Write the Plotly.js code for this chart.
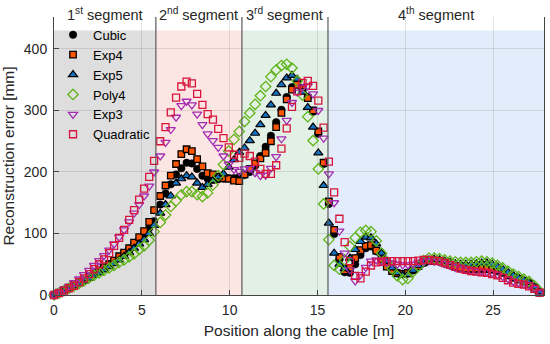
<!DOCTYPE html>
<html>
<head>
<meta charset="utf-8">
<script src="https://cdn.plot.ly/plotly-3.0.1.min.js"></script>
<style>html,body{margin:0;padding:0;background:#fff;}#chart{width:550px;height:344px;}</style>
</head>
<body>
<div id="chart"></div>
<script>
// Position along the cable [m]
const positions = [
  0, 0.29, 0.57, 0.86, 1.14, 1.43, 1.71, 2.0, 2.28, 2.57, 2.85, 3.14, 3.42, 3.71, 3.99, 4.28, 4.56, 4.85, 5.13, 5.42, 5.7,
  6.05, 6.35, 6.65, 6.95, 7.25, 7.55, 7.85, 8.15, 8.45, 8.75, 9.05, 9.35, 9.65, 9.95, 10.25, 10.55,
  10.85, 11.15, 11.45, 11.75, 12.05, 12.35, 12.65, 12.95, 13.25, 13.55, 13.85, 14.15, 14.45, 14.75, 15.05, 15.35, 15.65,
  15.95, 16.25, 16.55, 16.85, 17.15, 17.45, 17.75, 18.05, 18.35, 18.65, 18.95, 19.25, 19.55, 19.85, 20.15, 20.45, 20.75,
  21.05, 21.35, 21.65, 21.95, 22.25, 22.55, 22.85, 23.15, 23.45, 23.75, 24.05, 24.35, 24.65, 24.95, 25.25, 25.55, 25.85,
  26.15, 26.45, 26.75, 27.05, 27.35, 27.65
];
// Reconstruction error [mm]
const cubic = [
  0, 4, 8, 12, 16, 20, 24, 29, 34, 39, 44, 50, 55, 61, 68, 75, 82, 90, 98, 109, 120,
  147, 165, 180, 196, 206, 215, 214, 205, 194, 189, 187, 188, 189, 190, 190, 192,
  195, 200, 210, 226, 241, 259, 281, 301, 322, 338, 342, 335, 322, 298, 262, 213, 148,
  99, 58, 37, 36, 50, 65, 76, 79, 71, 58, 47, 40, 36, 34, 35, 40, 46,
  52, 55, 55, 54, 51, 48, 45, 43, 42, 42, 42, 42, 42, 41, 39, 36, 32, 28, 25, 22, 18, 12, 4
];
const exp4 = [
  0, 4, 8, 12, 16, 20, 25, 30, 35, 40, 45, 50, 56, 63, 69, 76, 85, 94, 104, 119, 138,
  161, 178, 194, 213, 229, 237, 234, 221, 209, 198, 196, 192, 190, 189, 186, 185,
  196, 205, 214, 222, 231, 250, 273, 296, 318, 334, 342, 336, 320, 300, 266, 215, 152,
  106, 62, 40, 44, 60, 73, 80, 81, 72, 58, 46, 39, 35, 34, 36, 41, 47,
  53, 56, 56, 55, 52, 49, 46, 44, 43, 43, 43, 44, 44, 42, 40, 37, 33, 29, 26, 23, 19, 12, 4
];
const exp5 = [
  0, 3, 7, 11, 15, 19, 23, 27, 32, 36, 41, 46, 51, 57, 63, 69, 76, 83, 90, 100, 113,
  133, 147, 161, 182, 189, 194, 192, 182, 175, 180, 186, 192, 197, 208, 220, 232,
  239, 251, 263, 277, 292, 309, 328, 342, 353, 357, 351, 330, 305, 273, 231, 178, 117,
  68, 50, 43, 60, 74, 87, 94, 93, 83, 68, 55, 44, 36, 32, 33, 40, 48,
  54, 57, 58, 57, 55, 53, 51, 50, 50, 50, 51, 52, 52, 50, 46, 42, 37, 32, 28, 24, 20, 13, 5
];
const poly4 = [
  0, 3, 7, 11, 15, 19, 23, 28, 32, 36, 40, 44, 48, 53, 57, 62, 67, 74, 80, 89, 103,
  118, 130, 144, 153, 163, 168, 168, 163, 160, 166, 179, 194, 212, 234, 253, 266,
  282, 296, 310, 324, 339, 355, 366, 373, 375, 369, 348, 325, 290, 251, 205, 148, 90,
  48, 42, 57, 79, 93, 102, 105, 103, 88, 68, 54, 43, 31, 25, 27, 38, 47,
  56, 60, 60, 59, 57, 55, 54, 53, 53, 53, 54, 55, 54, 52, 48, 44, 39, 34, 30, 26, 22, 15, 6
];
const exp3 = [
  0, 4, 9, 14, 20, 26, 33, 40, 48, 56, 64, 73, 83, 94, 106, 119, 133, 147, 161, 177, 200,
  226, 248, 269, 289, 308, 315, 309, 294, 277, 262, 251, 240, 226, 213, 204, 201,
  205, 206, 199, 194, 195, 206, 225, 254, 284, 313, 330, 338, 340, 327, 300, 255, 197,
  150, 104, 68, 41, 23, 33, 45, 55, 57, 55, 53, 52, 50, 49, 49, 50, 53,
  55, 56, 55, 54, 51, 48, 45, 43, 41, 40, 39, 39, 38, 36, 33, 30, 26, 22, 20, 18, 16, 11, 4
];
const quadratic = [
  0, 3, 7, 11, 15, 21, 27, 34, 42, 50, 58, 68, 80, 93, 106, 122, 138, 155, 173, 192, 218,
  250, 273, 297, 321, 339, 347, 344, 327, 309, 294, 285, 270, 255, 240, 228, 223,
  230, 226, 217, 205, 197, 197, 211, 238, 271, 306, 331, 345, 348, 340, 316, 272, 217,
  167, 124, 86, 55, 31, 27, 38, 48, 53, 54, 55, 55, 55, 55, 55, 55, 56,
  57, 57, 56, 55, 52, 49, 46, 43, 41, 39, 38, 37, 36, 34, 32, 28, 24, 20, 18, 17, 14, 10, 4
];
const seriesNames = ['Cubic', 'Exp4', 'Exp5', 'Poly4', 'Exp3', 'Quadratic'];
const segmentEdges = [0, 5.8, 10.7, 15.6, 27.9];
const segmentLabels = ['1<sup>st</sup> segment', '2<sup>nd</sup> segment', '3<sup>rd</sup> segment', '4<sup>th</sup> segment'];
const segmentColors = ['rgb(222,222,222)', 'rgb(252,230,227)', 'rgb(227,240,229)', 'rgb(226,236,250)'];
const xTicks = [0, 5, 10, 15, 20, 25];
const yTicks = [0, 100, 200, 300, 400];

const ys = [cubic, exp4, exp5, poly4, exp3, quadratic];
const markers = [
  {symbol: 'circle', size: 7.5, color: '#000', line: {color: '#000', width: 0.5}},
  {symbol: 'square', size: 6.5, color: 'rgb(255,85,0)', line: {color: '#000', width: 1.3}},
  {symbol: 'triangle-up', size: 8, color: 'rgb(20,115,195)', line: {color: '#000', width: 1.2}},
  {symbol: 'diamond-open', size: 8, color: 'rgb(95,180,25)', line: {color: 'rgb(95,180,25)', width: 1.3}},
  {symbol: 'triangle-down-open', size: 8, color: 'rgb(165,45,180)', line: {color: 'rgb(165,45,180)', width: 1.3}},
  {symbol: 'square-open', size: 7, color: 'rgb(215,20,60)', line: {color: 'rgb(215,20,60)', width: 1.3}}
];
const traces = seriesNames.map((n, i) => ({
  type: 'scatter', mode: 'markers', name: n, x: positions, y: ys[i],
  marker: markers[i], cliponaxis: false
}));

const shapes = [];
for (let s = 0; s < 4; s++) {
  shapes.push({type: 'rect', layer: 'below', xref: 'x', yref: 'y',
    x0: segmentEdges[s], x1: segmentEdges[s + 1], y0: 0, y1: 430,
    fillcolor: segmentColors[s], line: {width: 0}});
}
for (let s = 1; s < 4; s++) {
  shapes.push({type: 'line', layer: 'above', xref: 'x', yref: 'paper',
    x0: segmentEdges[s], x1: segmentEdges[s], y0: 0, y1: 1,
    line: {color: 'rgb(90,90,90)', width: 1.2}});
}
const fam = 'Liberation Sans, Arial, sans-serif';
const annotations = segmentLabels.map((t, s) => ({
  text: t, xref: 'x', yref: 'paper', x: (segmentEdges[s] + segmentEdges[s + 1]) / 2,
  y: 1.012, yanchor: 'middle', showarrow: false,
  font: {family: fam, size: 14.5, color: '#262626'}
}));

const layout = {
  width: 550, height: 344,
  margin: {l: 54, r: 6, t: 17, b: 49},
  paper_bgcolor: '#fff', plot_bgcolor: '#fff',
  font: {family: fam, size: 14, color: '#262626'},
  showlegend: true,
  legend: {x: -0.002, xanchor: 'left', y: 0.99, yanchor: 'top', bgcolor: 'rgba(0,0,0,0)',
    borderwidth: 0, font: {family: fam, size: 13, color: '#000'}, tracegroupgap: 0},
  xaxis: {range: [0, 27.9], tickvals: xTicks, ticks: 'inside', ticklen: 5, tickcolor: '#444',
    showline: true, linecolor: '#444', linewidth: 1, mirror: false,
    showgrid: true, gridcolor: 'rgba(0,0,0,0.10)', gridwidth: 1, zeroline: false,
    ticklabelstandoff: 2, tickfont: {family: fam, size: 14, color: '#262626'},
    title: {text: 'Position along the cable [m]', font: {family: fam, size: 15.5, color: '#262626'}, standoff: 8}},
  yaxis: {range: [0, 452], tickvals: yTicks, ticks: 'inside', ticklen: 5, tickcolor: '#444',
    showline: true, linecolor: '#444', linewidth: 1, mirror: true,
    showgrid: true, gridcolor: 'rgba(0,0,0,0.10)', gridwidth: 1, zeroline: false,
    ticklabelstandoff: 3, tickfont: {family: fam, size: 14, color: '#262626'},
    title: {text: 'Reconstruction error [mm]', font: {family: fam, size: 15.5, color: '#262626'}, standoff: 6}},
  shapes: shapes,
  annotations: annotations
};
Plotly.newPlot('chart', traces, layout, {displayModeBar: false, staticPlot: true});
</script>
</body>
</html>
